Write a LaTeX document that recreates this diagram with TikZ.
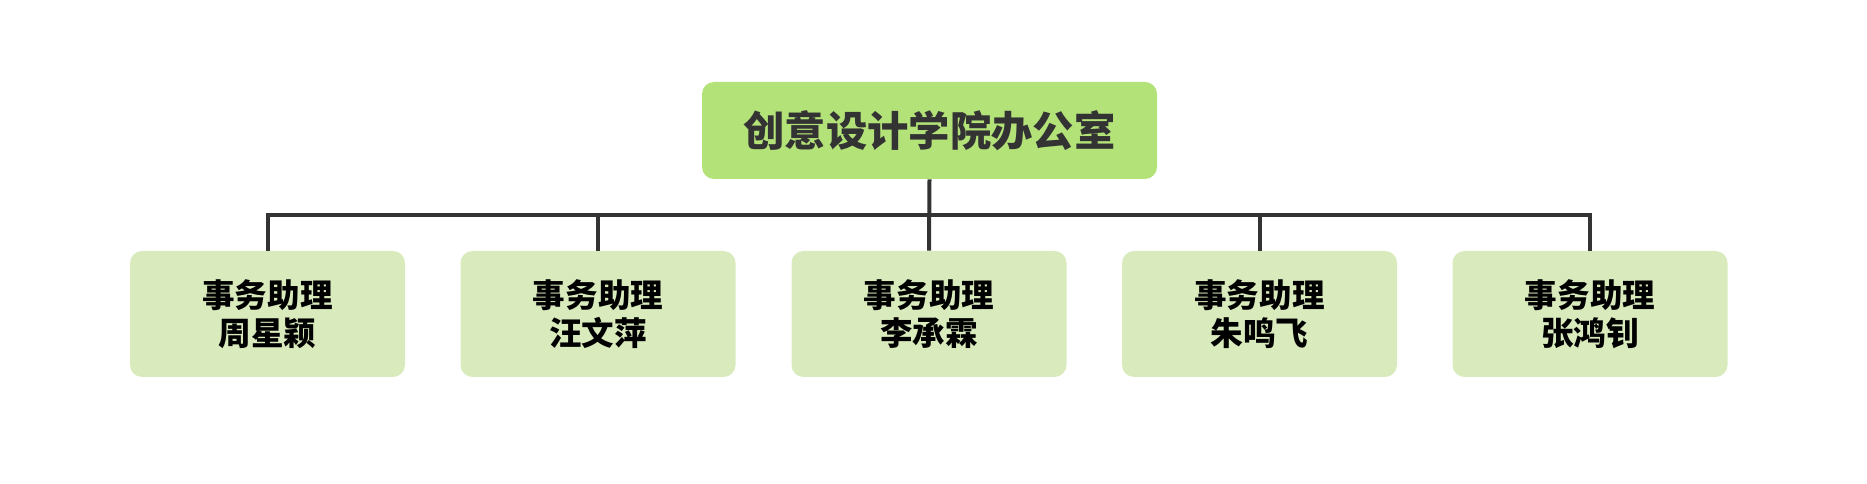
\documentclass[tikz,border=0pt]{standalone}
\usepackage{fontspec}
\newfontfamily\cjk{Noto Sans CJK SC}
\definecolor{topfill}{HTML}{B3E378}
\definecolor{childfill}{HTML}{D9EBBD}
\definecolor{linec}{HTML}{333333}
\begin{document}
\begin{tikzpicture}[x=0.75pt,y=-0.75pt,
  topbox/.style={fill=topfill, rounded corners=9pt, minimum width=341.25pt, minimum height=72.75pt, inner sep=0pt, font=\cjk\bfseries\fontsize{31pt}{36pt}\selectfont, text=linec},
  childbox/.style={fill=childfill, rounded corners=9pt, minimum width=206.25pt, minimum height=94.5pt, inner sep=0pt, align=center, font=\cjk\bfseries\fontsize{24.4pt}{28.5pt}\selectfont, text=black},
  conn/.style={draw=linec, line width=3pt, line join=miter}]
\useasboundingbox (0,0) rectangle (1867,484);
\node[topbox] (top) at (929.5,130.5) {创意设计学院办公室};
\node[childbox] (c1) at (267.5,314) {事务助理\\周星颖};
\node[childbox] (c2) at (598,314) {事务助理\\汪文萍};
\node[childbox] (c3) at (929,314) {事务助理\\李承霖};
\node[childbox] (c4) at (1259.5,314) {事务助理\\朱鸣飞};
\node[childbox] (c5) at (1590,314) {事务助理\\张鸿钊};
\coordinate (bus) at (0,215);
\draw[conn] (c1.north) -- (c1.north |- bus) -- (c5.north |- bus) -- (c5.north);
\draw[conn] (top.south) -- (c3.north);
\draw[conn] (c2.north) -- (c2.north |- bus);
\draw[conn] (c4.north) -- (c4.north |- bus);
\end{tikzpicture}
\end{document}
